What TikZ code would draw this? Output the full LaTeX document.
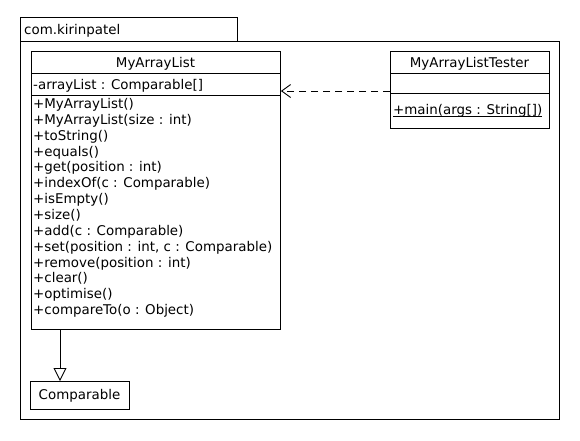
\documentclass[tikz,border=0pt]{standalone}
\usepackage{fontspec}
\setmainfont{DejaVu Sans}
\usetikzlibrary{arrows.meta,calc}
\begin{document}
\begin{tikzpicture}[x=1pt,y=-1pt,
  box/.style={draw, line width=0.9pt, rectangle, inner sep=0pt, anchor=north west},
  txt/.style={inner sep=0pt, anchor=base west, font=\fontsize{13.4}{15}\selectfont},
  ctxt/.style={inner sep=0pt, anchor=base, font=\fontsize{13.4}{15}\selectfont},
  sep/.style={line width=0.9pt},
  dep/.style={line width=0.9pt, dash pattern=on 7pt off 5pt, -{Straight Barb[length=9pt,width=13pt,line width=0.9pt]}},
  gen/.style={line width=0.9pt, -{Triangle[open,length=13pt,width=13pt,line width=0.9pt]}}]
\useasboundingbox (0,0) rectangle (580,440);
% package
\node[box, minimum width=217, minimum height=24] (tab) at (20,17) {};
\node[box, minimum width=539, minimum height=378] (pkg) at (20,41) {};
\node[txt] (pkgname) at (24,34) {com.kirinpatel};
% MyArrayList
\node[box, minimum width=249, minimum height=278] (mal) at (31,51) {};
\draw[sep] (31,73) -- (280,73);
\draw[sep] (31,95) -- (280,95);
\node[ctxt] (malname) at (155.5,67) {MyArrayList};
\node[txt] (attr) at (33,89) {-arrayList : Comparable[]};
\foreach \t [count=\i] in {+MyArrayList(),+MyArrayList(size : int),+toString(),+equals(),+get(position : int),+indexOf(c : Comparable),+isEmpty(),+size(),+add(c : Comparable),{+set(position : int, c : Comparable)},+remove(position : int),+clear(),+optimise(),+compareTo(o : Object)}
  \node[txt] (m\i) at (33,{108.5+15.85*(\i-1)}) {\t};
% Tester
\node[box, minimum width=159, minimum height=77] (tester) at (390,51) {};
\draw[sep] (390,73) -- (549,73);
\draw[sep] (390,93) -- (549,93);
\node[ctxt] (testername) at (469.5,67) {MyArrayListTester};
\node[txt] (mainm) at (393,114) {+main(args : String[])};
\draw[line width=0.7pt] ($(mainm.base west)+(0,2)$) -- ($(mainm.base east)+(0,2)$);
% Comparable
\node[box, minimum width=99, minimum height=28] (comp) at (30,381) {};
\node[ctxt] (compname) at (79.5,399.5) {Comparable};
% connectors
\coordinate (depfrom) at (390,91);
\coordinate (genfrom) at (60,329);
\draw[dep] (depfrom) -- (depfrom -| mal.east);
\draw[gen] (genfrom) -- (genfrom |- comp.north);
\end{tikzpicture}
\end{document}
